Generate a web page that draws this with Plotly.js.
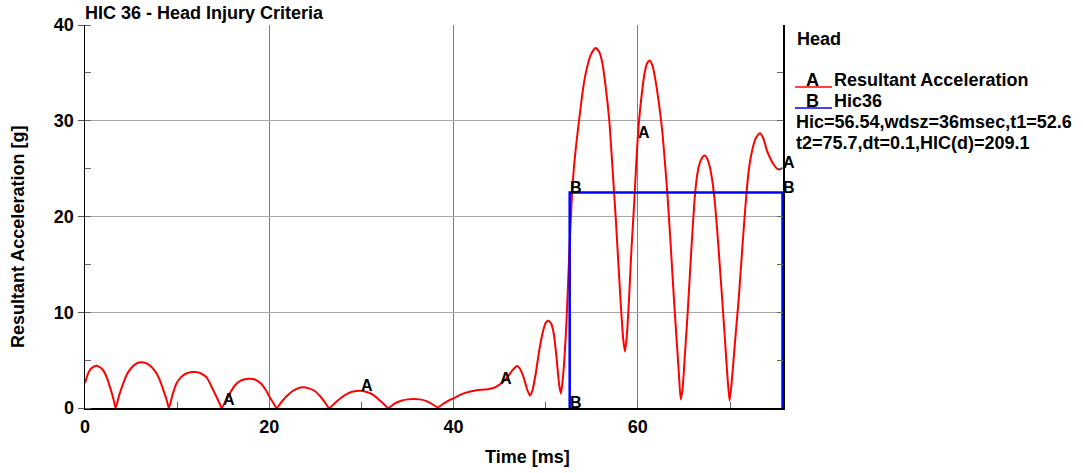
<!DOCTYPE html>
<html>
<head>
<meta charset="utf-8">
<script src="https://cdn.plot.ly/plotly-3.0.1.min.js"></script>
<style>html,body{margin:0;padding:0;background:#fff;}#chart{width:1083px;height:473px;}</style>
</head>
<body>
<div id="chart"></div>
<script>
// Resultant acceleration (A): time [ms] and value [g]
const timeMs = [0,0.3,0.6,1.0,1.3,1.7,2.0,2.4,2.8,3.1,3.32,
  3.7,4.15,4.6,5.0,5.6,6.2,6.8,7.3,7.77,8.2,8.6,8.9,9.1,
  9.5,9.9,10.4,11.0,11.6,12.0,12.6,13.2,13.7,14.2,14.6,14.84,
  15.3,15.7,16.3,16.9,17.5,17.9,18.5,19.1,19.6,20.1,20.5,20.8,
  21.3,21.85,22.5,23.1,23.65,24.3,24.9,25.5,26.0,26.5,
  27.1,27.7,28.4,29.1,29.8,30.5,31.2,31.8,32.4,32.9,
  33.6,34.3,35.0,35.6,36.3,37.0,37.6,38.3,
  38.9,39.5,40.1,40.9,41.7,42.5,43.3,43.9,44.6,45.3,45.9,46.4,46.9,47.2,47.6,48.0,48.3,48.55,48.9,
  49.3,49.7,50.0,50.3,50.6,50.9,51.2,51.45,51.65,51.85,52.05,52.25,52.55,52.9,53.25,53.6,54.0,54.35,
  54.9,55.4,55.8,56.15,56.5,56.9,57.25,57.6,57.9,58.15,58.4,58.6,58.8,59.05,59.3,59.6,59.85,60.1,60.4,
  60.7,61.0,61.3,61.6,61.9,62.3,62.66,62.95,63.2,63.55,63.9,64.2,64.45,64.65,64.85,65.1,65.4,65.8,66.2,
  66.5,66.8,67.1,67.3,67.5,67.8,68.1,68.4,68.7,69.0,69.35,69.65,69.95,70.2,70.55,70.96,71.4,71.8,72.1,
  72.4,72.8,73.25,73.6,74.0,74.4,74.75,75.1,75.4,75.7];
const accel = [2.6,3.5,4.05,4.35,4.42,4.2,3.9,3.1,1.9,0.9,0.0,
  1.3,2.58,3.6,4.15,4.66,4.77,4.6,4.2,3.6,2.7,1.6,0.7,0.0,
  1.4,2.5,3.2,3.6,3.75,3.76,3.6,3.2,2.3,1.3,0.5,0.0,
  0.8,1.5,2.4,2.85,3.03,3.06,2.95,2.55,1.9,1.05,0.45,0.0,
  0.6,1.2,1.75,2.05,2.16,2.05,1.8,1.25,0.65,0.0,
  0.5,1.0,1.45,1.72,1.81,1.7,1.42,0.95,0.45,0.0,
  0.45,0.75,0.9,0.94,0.9,0.75,0.45,0.08,
  0.45,0.8,1.05,1.45,1.7,1.85,1.92,1.98,2.2,2.7,3.3,3.95,4.38,4.1,3.2,1.9,1.3,1.8,3.5,
  6.05,8.0,8.9,9.1,8.8,7.6,5.0,2.5,1.5,3.0,5.5,9.0,16.0,23.1,27.0,29.9,33.0,35.0,
  36.9,37.6,37.2,36.0,33.6,30.0,25.0,19.8,14.8,10.8,7.3,5.9,7.5,11.6,16.5,21.4,26.0,29.7,32.6,
  34.8,36.0,36.3,35.7,34.3,31.7,28.8,25.5,22.4,17.2,11.6,7.2,3.6,0.9,2.0,5.5,9.9,16.5,22.3,
  24.7,25.8,26.3,26.35,26.1,25.2,23.6,21.0,17.4,13.4,8.6,4.3,0.75,2.9,7.0,11.6,17.6,22.6,25.3,
  26.9,28.2,28.7,28.2,26.9,26.0,25.4,25.0,24.9,25.1];
// HIC36 window (B)
const hicTime = [52.6,52.6,75.7,75.7];
const hicLevel = [0,22.5,22.5,0];
// Label sample times on curve A
const labelATimes = [15,30,45,60,75.7];
const xTicks = [0,20,40,60];
const yTicks = [0,10,20,30,40];
const legendTitle = 'Head';
const seriesNames = ['Resultant Acceleration','Hic36'];
const seriesLetters = ['A','B'];
const infoLines = ['Hic=56.54,wdsz=36msec,t1=52.6','t2=75.7,dt=0.1,HIC(d)=209.1'];

const FONT = 'Liberation Sans, Arial, sans-serif';
function interp(t){
  for(let i=0;i<timeMs.length-1;i++){
    if(t>=timeMs[i] && t<=timeMs[i+1]){
      const f=(t-timeMs[i])/(timeMs[i+1]-timeMs[i]);
      return accel[i]+f*(accel[i+1]-accel[i]);
    }
  }
  return accel[accel.length-1];
}

const traces = [
  {x: timeMs, y: accel, mode:'lines', line:{color:'#ff0000', width:2, shape:'spline', smoothing:0.6}, hoverinfo:'skip', name: seriesNames[0]},
  {x: hicTime, y: hicLevel, mode:'lines', line:{color:'#0000ff', width:2.5}, hoverinfo:'skip', name: seriesNames[1]},
  {x: [], y: [], yaxis:'y2', mode:'lines', hoverinfo:'skip', showlegend:false}
];

const L=85, R=783, T=25, B=408, W=1083, H=473;
const pw=R-L, ph=B-T;
const px=(v)=>(v-L)/pw, py=(v)=>(B-v)/ph;

const ann = [];
const letterFont = {family: FONT, size: 16, color:'#000', weight:'bold'};
labelATimes.forEach(t=>{
  ann.push({x:t, y:interp(t), xref:'x', yref:'y', text:'A', showarrow:false, xanchor:'left', yanchor:'bottom', yshift:-5, xshift:-2, font:letterFont});
});
[[hicTime[1],hicLevel[1]],[hicTime[2],hicLevel[2]],[hicTime[0],hicLevel[0]]].forEach(p=>{
  ann.push({x:p[0], y:p[1], xref:'x', yref:'y', text:'B', showarrow:false, xanchor:'left', yanchor:'bottom', yshift:-5, xshift:-2, font:letterFont});
});
const legFont = {family: FONT, size: 18, color:'#000', weight:'bold'};
ann.push({x:px(795), y:py(39), xref:'paper', yref:'paper', text:legendTitle, showarrow:false, xanchor:'left', yanchor:'middle', font:legFont});
ann.push({x:px(813), y:py(80), xref:'paper', yref:'paper', text:seriesLetters[0], showarrow:false, xanchor:'center', yanchor:'middle', font:legFont});
ann.push({x:px(832), y:py(80), xref:'paper', yref:'paper', text:seriesNames[0], showarrow:false, xanchor:'left', yanchor:'middle', font:legFont});
ann.push({x:px(813), y:py(101), xref:'paper', yref:'paper', text:seriesLetters[1], showarrow:false, xanchor:'center', yanchor:'middle', font:legFont});
ann.push({x:px(832), y:py(101), xref:'paper', yref:'paper', text:seriesNames[1], showarrow:false, xanchor:'left', yanchor:'middle', font:legFont});
ann.push({x:px(794), y:py(122), xref:'paper', yref:'paper', text:infoLines[0], showarrow:false, xanchor:'left', yanchor:'middle', font:legFont});
ann.push({x:px(794), y:py(143), xref:'paper', yref:'paper', text:infoLines[1], showarrow:false, xanchor:'left', yanchor:'middle', font:legFont});
// axis titles
ann.push({x:px(527), y:py(457), xref:'paper', yref:'paper', text:'Time [ms]', showarrow:false, xanchor:'center', yanchor:'middle', font:legFont});
ann.push({x:px(18), y:py(237), xref:'paper', yref:'paper', text:'Resultant Acceleration [g]', textangle:-90, showarrow:false, xanchor:'center', yanchor:'middle', font:legFont});

const shapes = [
  {type:'line', xref:'paper', yref:'paper', x0:px(795), x1:px(832), y0:py(87), y1:py(87), line:{color:'#ff0000', width:1.5}},
  {type:'line', xref:'paper', yref:'paper', x0:px(795), x1:px(832), y0:py(108), y1:py(108), line:{color:'#0000ff', width:1.5}}
];

const layout = {
  width:W, height:H,
  margin:{l:L, r:W-R, t:T, b:H-B, pad:0},
  paper_bgcolor:'#fff', plot_bgcolor:'#fff',
  showlegend:false,
  title:{text:'HIC 36 - Head Injury Criteria', x:L/W, xanchor:'left', xref:'container', y:1-13/H, yanchor:'middle', yref:'container', font:{family:FONT, size:18, color:'#000', weight:'bold'}},
  xaxis:{range:[0,75.75], tickvals:xTicks, ticktext:xTicks.map(String), showgrid:true, gridcolor:'#808080', gridwidth:1,
    showline:true, linecolor:'#000', linewidth:1.5, mirror:false, zeroline:false,
    ticks:'inside', ticklen:6, tickcolor:'#666', ticklabelstandoff:2,
    minor:{dtick:10, tick0:0, ticks:'inside', ticklen:6, tickcolor:'#666', showgrid:false},
    tickfont:{family:FONT, size:18, color:'#000', weight:'bold'}, fixedrange:true},
  yaxis:{range:[0,40], tickvals:yTicks, ticktext:yTicks.map(String), showgrid:true, gridcolor:'#a8a8a8', gridwidth:1,
    showline:true, linecolor:'#000', linewidth:1.5, mirror:true, zeroline:true, zerolinecolor:'#000', zerolinewidth:1.5,
    ticks:'outside', ticklen:6, tickcolor:'#555', ticklabelstandoff:0,
    minor:{dtick:5, tick0:0, ticks:'inside', ticklen:6, tickcolor:'#666', showgrid:false},
    tickfont:{family:FONT, size:18, color:'#000', weight:'bold'}, fixedrange:true},
  yaxis2:{range:[0,40], overlaying:'y', side:'right', showgrid:false, zeroline:false, showline:false,
    tickvals:yTicks, showticklabels:false, ticks:'inside', ticklen:6, tickcolor:'#666',
    minor:{dtick:5, tick0:0, ticks:'inside', ticklen:6, tickcolor:'#666', showgrid:false}, fixedrange:true},
  annotations: ann,
  shapes: shapes
};
Plotly.newPlot('chart', traces, layout, {staticPlot:true, displayModeBar:false});
</script>
</body>
</html>
